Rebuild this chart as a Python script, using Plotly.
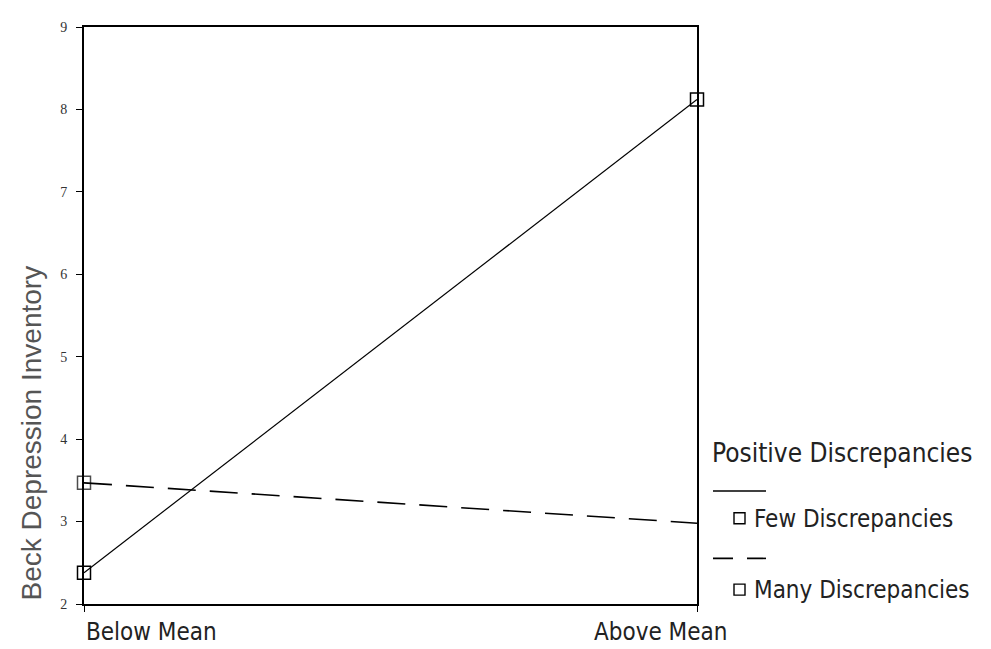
import plotly.graph_objects as go

categories = ["Below Mean", "Above Mean"]
few_vals = [2.38, 8.12]
many_vals = [3.47, 2.98]
y_ticks = [2, 3, 4, 5, 6, 7, 8, 9]
y_title = "Beck Depression Inventory"
legend_title = "Positive Discrepancies"
series_names = ["Few Discrepancies", "Many Discrepancies"]

fig = go.Figure()
fig.add_trace(go.Scatter(
    x=[0, 1], y=few_vals, mode="lines+markers", name=series_names[0],
    line=dict(color="black", width=1.2, dash="solid"),
    marker=dict(symbol="square-open", size=13, color="black", line=dict(width=1.5)),
    cliponaxis=False, showlegend=False))
fig.add_trace(go.Scatter(
    x=[0, 1], y=many_vals, mode="lines+markers", name=series_names[1],
    line=dict(color="black", width=1.6, dash="28px,14px"),
    marker=dict(symbol="square-open", size=[13, 0], color="black", line=dict(width=1.5)),
    cliponaxis=False, showlegend=False))

OFF = 8  # page body margin
W, H = 991 - OFF, 649 - OFF
# plot area in page pixels
PL, PR, PT, PB = 84, 697, 22, 604
L, R, T, B = PL - OFF, PR - OFF, PT - OFF, PB - OFF

COND = "DejaVu Sans Condensed, Liberation Sans Narrow"

fig.update_layout(
    width=W, height=H,
    margin=dict(l=L, r=W - R, t=T, b=H - B, pad=0),
    paper_bgcolor="white", plot_bgcolor="white",
    xaxis=dict(range=[0, 1], tickvals=[0, 1], ticktext=["", ""],
               showgrid=False, zeroline=False, showline=True, linecolor="black", linewidth=1.8,
               mirror=True, ticks="outside", ticklen=6, tickcolor="black"),
    yaxis=dict(range=[2, 9], tickvals=y_ticks, ticktext=[str(v) for v in y_ticks],
               showgrid=False, zeroline=False, showline=True, linecolor="black", linewidth=1.8,
               mirror=True, ticks="outside", ticklen=6, tickcolor="black", ticklabelstandoff=6,
               tickfont=dict(family="Liberation Serif, DejaVu Serif", size=14, color="#333")),
)

def px2x(px):
    return (px - OFF - L) / (R - L)

def py2y(py):
    return (B - (py - OFF)) / (B - T)

# x category labels (left one starts at its tick, right one ends past the frame)
fig.add_annotation(xref="x", yref="paper", x=0, y=py2y(632), text=categories[0],
                   showarrow=False, xanchor="left", yanchor="middle",
                   font=dict(family=COND, size=24, color="#222"))
fig.add_annotation(xref="paper", yref="paper", x=px2x(729), y=py2y(632), text=categories[1],
                   showarrow=False, xanchor="right", yanchor="middle",
                   font=dict(family=COND, size=24, color="#222"))

# y-axis title
fig.add_annotation(xref="paper", yref="paper", x=px2x(31), y=py2y(432), text=y_title,
                   textangle=-90, showarrow=False, xanchor="center", yanchor="middle",
                   font=dict(family="Liberation Sans, Arial", size=28, color="#555"))

# legend drawn manually
fig.add_annotation(xref="paper", yref="paper", x=px2x(710), y=py2y(452), text=legend_title,
                   showarrow=False, xanchor="left", yanchor="middle",
                   font=dict(family=COND, size=26, color="#222"))
fig.add_shape(type="line", xref="paper", yref="paper", x0=px2x(713), x1=px2x(766),
              y0=py2y(490), y1=py2y(490), line=dict(color="black", width=1.6))
fig.add_shape(type="line", xref="paper", yref="paper", x0=px2x(713), x1=px2x(766),
              y0=py2y(558), y1=py2y(558), line=dict(color="black", width=1.6, dash="20px,14px"))
for name, py in [(series_names[0], 518), (series_names[1], 590)]:
    fig.add_shape(type="rect", xref="paper", yref="paper",
                  x0=px2x(734), x1=px2x(745), y0=py2y(py - 6), y1=py2y(py + 5),
                  line=dict(color="black", width=1.4), fillcolor="rgba(0,0,0,0)")
    fig.add_annotation(xref="paper", yref="paper", x=px2x(752), y=py2y(py), text=name,
                       showarrow=False, xanchor="left", yanchor="middle",
                       font=dict(family=COND, size=24, color="#222"))

# blue right border of the frame, drawn as a thin rectangle
fig.add_shape(type="rect", xref="paper", yref="paper", x0=px2x(986), x1=px2x(990),
              y0=py2y(OFF), y1=py2y(649), line=dict(width=0), fillcolor="#2a3a9a", layer="above")

fig.write_html("out.html", post_script="document.body.style.overflow='hidden';")
